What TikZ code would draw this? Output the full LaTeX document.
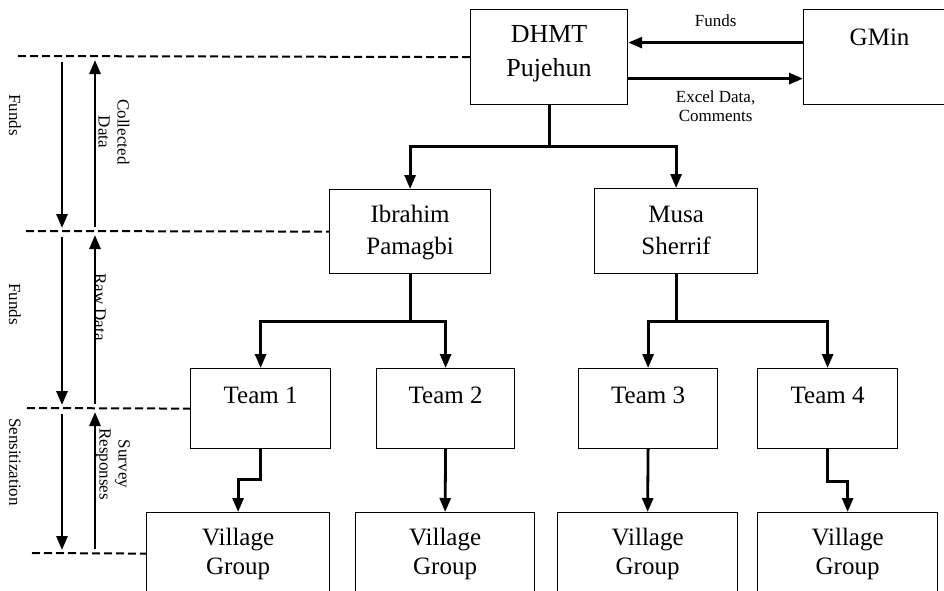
\documentclass[tikz,border=0pt]{standalone}
\usepackage{fontspec}
\setmainfont{Liberation Serif}
\usetikzlibrary{arrows.meta}
\tikzset{>={Triangle[width=11pt,length=14pt]}}
\tikzset{
	unit/.style={draw, line width=1.2pt, inner sep=0pt, anchor=north west, align=center, font=\fontsize{25}{32}\selectfont},
	flow/.style={->, line width=2.8pt},
	level/.style={line width=2pt, dash pattern=on 8pt off 4pt},
	side/.style={rotate=-90, align=center, font=\fontsize{17}{19}\selectfont},
	small/.style={align=center, font=\fontsize{17}{19}\selectfont},
}

\begin{document}
\begin{tikzpicture}[x=1pt, y=-1pt]
	\useasboundingbox (0,0) rectangle (944,590);
	\clip (0,0) rectangle (944,590);
	% boxes
	\node [unit, minimum width=157pt, text height=67pt, text depth=28pt, font=\fontsize{26}{34}\selectfont] (dhmt) at (470,9) {DHMT\\Pujehun};
	\node [unit, minimum width=152pt, text height=36pt, text depth=59pt] (gmin) at (803,9) {GMin};
	\node [unit, minimum width=161pt, text height=65pt, text depth=19pt] (ibrahim) at (329,189) {Ibrahim\\Pamagbi};
	\node [unit, minimum width=163pt, text height=66pt, text depth=19pt] (musa) at (594,188) {Musa\\Sherrif};
	\node [unit, minimum width=140pt, text height=35pt, text depth=45pt] (team1) at (190,368) {Team 1};
	\node [unit, minimum width=138pt, text height=35pt, text depth=45pt] (team2) at (376,368) {Team 2};
	\node [unit, minimum width=139pt, text height=35pt, text depth=45pt] (team3) at (578,368) {Team 3};
	\node [unit, minimum width=140pt, text height=35pt, text depth=45pt] (team4) at (757,368) {Team 4};
	\node [unit, minimum width=183pt, text height=62pt, text depth=20pt, font=\fontsize{25}{29}\selectfont] (village1) at (146,512) {Village\\Group};
	\node [unit, minimum width=179pt, text height=62pt, text depth=20pt, font=\fontsize{25}{29}\selectfont] (village2) at (355,512) {Village\\Group};
	\node [unit, minimum width=180pt, text height=62pt, text depth=20pt, font=\fontsize{25}{29}\selectfont] (village3) at (557,512) {Village\\Group};
	\node [unit, minimum width=180pt, text height=62pt, text depth=20pt, font=\fontsize{25}{29}\selectfont] (village4) at (757,512) {Village\\Group};
	% top exchange
	\draw [flow] ([yshift=14.5pt]gmin.west) -- ([yshift=14.5pt]dhmt.east) node [small, midway, yshift=22pt] (fundstop) {Funds};
	\draw [flow] ([yshift=-21.5pt]dhmt.east) -- ([yshift=-21.5pt]gmin.west) node [small, midway, yshift=-28pt] (excel) {Excel Data,\\Comments};
	% tree
	\draw [flow] (dhmt.south) -- ++(0,41) -| (ibrahim.north);
	\draw [flow] (dhmt.south) -- ++(0,41) -| (musa.north);
	\draw [flow] (ibrahim.south) -- ++(0,47) -| (team1.north);
	\draw [flow] (ibrahim.south) -- ++(0,47) -| (team2.north);
	\draw [flow] (musa.south) -- ++(0,47) -| (team3.north);
	\draw [flow] (musa.south) -- ++(0,47) -| (team4.north);
	\draw [flow] (team1.south) -- ++(0,30) -| (village1.north);
	\draw [flow] (team2.south) -- (village2.north);
	\draw [flow] (team3.south) -- (village3.north);
	\draw [flow] (team4.south) -- ++(0,32) -| (village4.north);
	% levels
	\coordinate (lv1) at (18,56);
	\coordinate (lv2) at (26,231);
	\coordinate (lv3) at (27,408);
	\coordinate (lv4) at (32,553);
	\draw [level] (lv1) -- (dhmt.west);
	\draw [level] (lv2) -- (ibrahim.west);
	\draw [level] (lv3) -- (team1.west);
	\draw [level] (lv4) -- (village1.west);
	\foreach \a/\b in {56/231, 231/408, 408/553} {
		\draw [flow] (62,\a+6) -- (62,\b-3);
		\draw [flow] (95,\b-4) -- (95,\a+4);
	}
	\node [side] (funds1) at (15,115) {Funds};
	\node [side] (collected) at (114,132) {Collected\\Data};
	\node [side] (funds2) at (15,304) {Funds};
	\node [side] (rawdata) at (100,307) {Raw Data};
	\node [side] (sensit) at (15,462) {Sensitization};
	\node [side] (survey) at (113,464) {Survey\\Responses};
\end{tikzpicture}
\end{document}
